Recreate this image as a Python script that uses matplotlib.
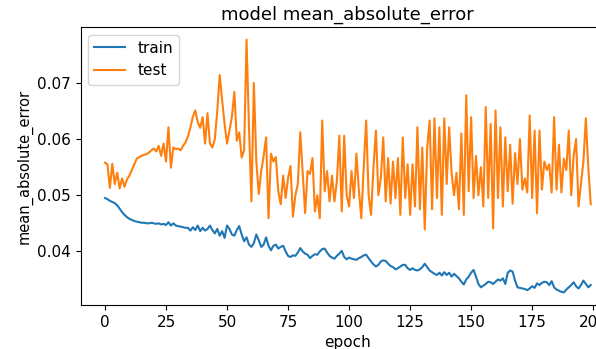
import matplotlib
matplotlib.use("Agg")
import matplotlib.pyplot as plt

# training history, one value per epoch
train_mae = [
    0.0495, 0.0493, 0.0490, 0.0488, 0.0486, 0.0482, 0.0476, 0.0470, 0.0465, 0.0461,
    0.0458, 0.0456, 0.0454, 0.0453, 0.0452, 0.0451, 0.0451, 0.0450, 0.0450, 0.0451,
    0.0450, 0.0449, 0.0450, 0.0448, 0.0449, 0.0447, 0.0452, 0.0446, 0.0450, 0.0446,
    0.0445, 0.0444, 0.0443, 0.0442, 0.0442, 0.0437, 0.0443, 0.0438, 0.0446, 0.0436,
    0.0442, 0.0437, 0.0440, 0.0446, 0.0438, 0.0432, 0.0440, 0.0428, 0.0436, 0.0424,
    0.0446, 0.0440, 0.0430, 0.0428, 0.0438, 0.0445, 0.0430, 0.0418, 0.0425, 0.0412,
    0.0408, 0.0415, 0.0430, 0.0420, 0.0408, 0.0412, 0.0425, 0.0410, 0.0402, 0.0410,
    0.0412, 0.0405, 0.0408, 0.0410, 0.0400, 0.0392, 0.0390, 0.0393, 0.0392, 0.0398,
    0.0406, 0.0400, 0.0396, 0.0394, 0.0388, 0.0392, 0.0395, 0.0394, 0.0400, 0.0404,
    0.0405, 0.0398, 0.0392, 0.0389, 0.0387, 0.0392, 0.0396, 0.0401, 0.0390, 0.0386,
    0.0389, 0.0387, 0.0386, 0.0385, 0.0388, 0.0390, 0.0393, 0.0394, 0.0388, 0.0382,
    0.0377, 0.0373, 0.0376, 0.0382, 0.0384, 0.0383, 0.0378, 0.0374, 0.0372, 0.0368,
    0.0370, 0.0373, 0.0376, 0.0376, 0.0370, 0.0367, 0.0370, 0.0367, 0.0366, 0.0368,
    0.0372, 0.0378, 0.0372, 0.0366, 0.0363, 0.0360, 0.0358, 0.0362, 0.0357, 0.0363,
    0.0358, 0.0362, 0.0355, 0.0360, 0.0356, 0.0352, 0.0346, 0.0341, 0.0350, 0.0355,
    0.0362, 0.0367, 0.0355, 0.0342, 0.0336, 0.0339, 0.0342, 0.0346, 0.0345, 0.0342,
    0.0346, 0.0350, 0.0348, 0.0352, 0.0342, 0.0362, 0.0366, 0.0364, 0.0348, 0.0336,
    0.0335, 0.0334, 0.0333, 0.0331, 0.0334, 0.0338, 0.0335, 0.0343, 0.0340, 0.0344,
    0.0346, 0.0345, 0.0340, 0.0347, 0.0336, 0.0332, 0.0330, 0.0328, 0.0327, 0.0332,
    0.0336, 0.0340, 0.0345, 0.0338, 0.0334, 0.0340, 0.0348, 0.0342, 0.0336, 0.0340,
]

test_mae = [
    0.0558, 0.0555, 0.0513, 0.0556, 0.0520, 0.0540, 0.0512, 0.0530, 0.0515, 0.0528,
    0.0535, 0.0545, 0.0555, 0.0565, 0.0568, 0.0570, 0.0572, 0.0573, 0.0576, 0.0580,
    0.0583, 0.0578, 0.0588, 0.0570, 0.0592, 0.0560, 0.0621, 0.0549, 0.0585, 0.0582,
    0.0583, 0.0580, 0.0588, 0.0594, 0.0605, 0.0620, 0.0640, 0.0651, 0.0630, 0.0620,
    0.0639, 0.0592, 0.0646, 0.0592, 0.0585, 0.0600, 0.0650, 0.0714, 0.0669, 0.0627,
    0.0592, 0.0615, 0.0640, 0.0684, 0.0597, 0.0612, 0.0567, 0.0580, 0.0777, 0.0620,
    0.0489, 0.0700, 0.0560, 0.0502, 0.0543, 0.0570, 0.0603, 0.0459, 0.0574, 0.0560,
    0.0568, 0.0507, 0.0484, 0.0535, 0.0495, 0.0530, 0.0552, 0.0462, 0.0500, 0.0520,
    0.0612, 0.0540, 0.0468, 0.0543, 0.0538, 0.0566, 0.0471, 0.0500, 0.0459, 0.0633,
    0.0507, 0.0543, 0.0489, 0.0535, 0.0489, 0.0525, 0.0606, 0.0471, 0.0606, 0.0500,
    0.0480, 0.0543, 0.0495, 0.0574, 0.0510, 0.0459, 0.0550, 0.0633, 0.0500, 0.0465,
    0.0550, 0.0615, 0.0500, 0.0530, 0.0603, 0.0489, 0.0566, 0.0485, 0.0560, 0.0495,
    0.0566, 0.0465, 0.0603, 0.0495, 0.0555, 0.0465, 0.0555, 0.0480, 0.0621, 0.0475,
    0.0585, 0.0439, 0.0585, 0.0633, 0.0475, 0.0637, 0.0495, 0.0621, 0.0465, 0.0637,
    0.0520, 0.0621, 0.0540, 0.0500, 0.0540, 0.0475, 0.0610, 0.0465, 0.0678, 0.0507,
    0.0639, 0.0495, 0.0570, 0.0500, 0.0550, 0.0480, 0.0657, 0.0495, 0.0627, 0.0441,
    0.0651, 0.0495, 0.0621, 0.0480, 0.0603, 0.0507, 0.0590, 0.0485, 0.0575, 0.0520,
    0.0600, 0.0510, 0.0530, 0.0505, 0.0642, 0.0495, 0.0615, 0.0468, 0.0615, 0.0510,
    0.0560, 0.0545, 0.0555, 0.0505, 0.0639, 0.0510, 0.0590, 0.0505, 0.0565, 0.0545,
    0.0615, 0.0500, 0.0570, 0.0600, 0.0480, 0.0520, 0.0560, 0.0637, 0.0550, 0.0484,
]

fig = plt.figure(figsize=(5.96, 3.49), dpi=100)
# axes run a bit past the right edge of the figure
ax = fig.add_axes([0.1354, 0.126, 0.8965, 0.7966])

ax.plot(train_mae, color="#1f77b4", label="train")
ax.plot(test_mae, color="#ff7f0e", label="test")

ax.set_title("model mean_absolute_error", fontsize=13, pad=5)
ax.set_ylabel("mean_absolute_error", fontsize=10.5, labelpad=3)
ax.set_xlabel("epoch", fontsize=11)
ax.tick_params(labelsize=11)
ax.legend(loc="upper left", fontsize=11)

fig.savefig("out.png", dpi=100)
